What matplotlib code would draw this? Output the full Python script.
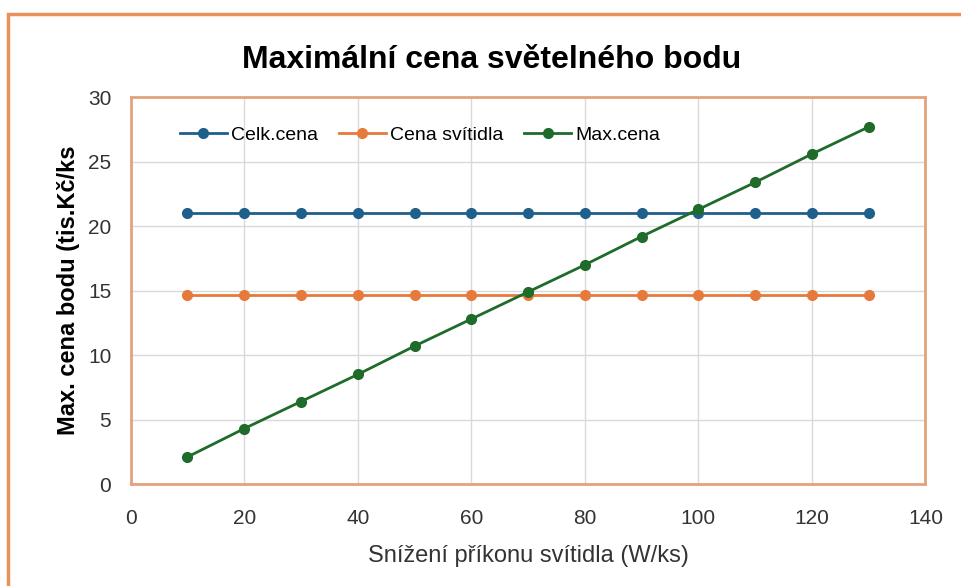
import matplotlib.pyplot as plt
from matplotlib.patches import Rectangle

# data
x_vals = [10, 20, 30, 40, 50, 60, 70, 80, 90, 100, 110, 120, 130]
celk_cena = [21.0] * 13
cena_svitidla = [14.7] * 13
max_cena = [2.1, 4.3, 6.4, 8.5, 10.7, 12.8, 14.9, 17.0, 19.2, 21.3, 23.4, 25.6, 27.7]

series_names = ["Celk.cena", "Cena svítidla", "Max.cena"]
series_colors = ["#1f5f8b", "#e67a3c", "#1e6b2a"]

plt.rcParams["font.family"] = ["Liberation Sans", "DejaVu Sans"]

fig = plt.figure(figsize=(9.61, 5.86), dpi=100)
ax = fig.add_axes([0.136, 0.174, 0.827, 0.66])

# outer chart border
fig.patches.append(Rectangle((8 / 961, -0.05), 1.1, 1 - 14 / 586 + 0.05,
                             transform=fig.transFigure, fill=False,
                             edgecolor="#e8915a", linewidth=2.5, zorder=0))

for vals, name, col in zip([celk_cena, cena_svitidla, max_cena], series_names, series_colors):
    ax.plot(x_vals, vals, color=col, linewidth=2, marker="o", markersize=7, label=name)

ax.set_xlim(0, 140)
ax.set_ylim(0, 30)
ax.set_xticks(range(0, 141, 20))
ax.set_yticks(range(0, 31, 5))
ax.grid(True, color="#d9d9d9", linewidth=1)
ax.set_axisbelow(True)
for s in ax.spines.values():
    s.set_color("#e3a27e")
    s.set_linewidth(2)
ax.tick_params(length=0, labelsize=15, colors="#333333")
ax.tick_params(axis="x", pad=18)
ax.tick_params(axis="y", pad=14)

fig.text(492 / 961, 1 - 60 / 586, "Maximální cena světelného bodu", fontsize=23,
         fontweight="bold", ha="center", va="center")
ax.set_xlabel("Snížení příkonu svítidla (W/ks)", fontsize=17, labelpad=12, color="#333333")
ax.set_ylabel("Max. cena bodu (tis.Kč/ks", fontsize=17, fontweight="bold", labelpad=6)

ax.legend(loc="upper left", bbox_to_anchor=(0.05, 0.95), ncol=3, frameon=False,
          borderpad=0, fontsize=14, handlelength=2.4, columnspacing=1.1,
          handletextpad=0.2, markerscale=1.0)

fig.savefig("out.png", dpi=100)
